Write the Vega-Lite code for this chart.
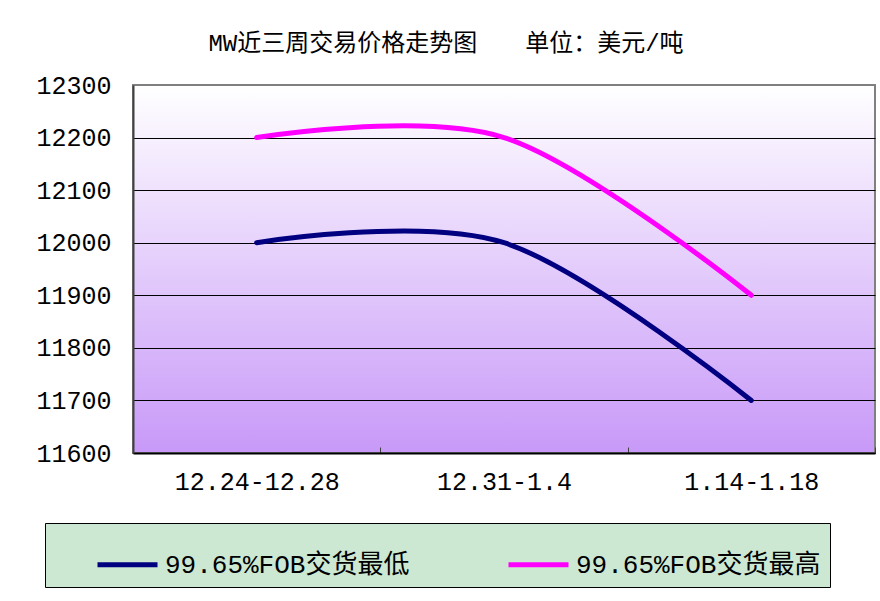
{
  "$schema": "https://vega.github.io/schema/vega-lite/v6.json",
  "width": 742,
  "height": 368,
  "autosize": {"type": "none"},
  "padding": {"left": 133, "top": 85, "right": 5, "bottom": 148},
  "background": "#ffffff",
  "title": {
    "text": "MW近三周交易价格走势图　　单位：美元/吨",
    "font": "Liberation Mono, Noto Sans CJK SC",
    "fontSize": 24,
    "fontWeight": "normal",
    "color": "#000000",
    "anchor": "middle",
    "frame": "group",
    "dx": -58,
    "offset": 17
  },
  "config": {
    "view": {
      "stroke": "#808080",
      "strokeWidth": 2,
      "fill": {
        "gradient": "linear",
        "x1": 0, "y1": 0, "x2": 0, "y2": 1,
        "stops": [
          {"offset": 0, "color": "#ffffff"},
          {"offset": 1, "color": "#c899f8"}
        ]
      }
    },
    "axis": {
      "labelFont": "Liberation Mono, Noto Sans CJK SC",
      "labelFontSize": 25,
      "labelColor": "#000000",
      "title": null
    }
  },
  "data": {
    "values": [
      {"period": "12.24-12.28", "series": "99.65%FOB交货最低", "price": 12000},
      {"period": "12.31-1.4", "series": "99.65%FOB交货最低", "price": 12000},
      {"period": "1.14-1.18", "series": "99.65%FOB交货最低", "price": 11700},
      {"period": "12.24-12.28", "series": "99.65%FOB交货最高", "price": 12200},
      {"period": "12.31-1.4", "series": "99.65%FOB交货最高", "price": 12200},
      {"period": "1.14-1.18", "series": "99.65%FOB交货最高", "price": 11900}
    ]
  },
  "mark": {"type": "line", "interpolate": "cardinal", "tension": 0, "strokeWidth": 5, "strokeCap": "round", "strokeJoin": "round"},
  "encoding": {
    "x": {
      "field": "period",
      "type": "nominal",
      "sort": ["12.24-12.28", "12.31-1.4", "1.14-1.18"],
      "scale": {"paddingInner": 0, "paddingOuter": 0},
      "axis": {
        "labelAngle": 0,
        "labelPadding": 22,
        "tickBand": "extent",
        "tickSize": -6,
        "tickColor": "#404040",
        "tickWidth": 1,
        "domainColor": "#000000",
        "domainWidth": 2,
        "grid": false
      }
    },
    "y": {
      "field": "price",
      "type": "quantitative",
      "scale": {"domain": [11600, 12300], "nice": false, "zero": false},
      "axis": {
        "values": [11600, 11700, 11800, 11900, 12000, 12100, 12200, 12300],
        "format": "d",
        "ticks": false,
        "labelPadding": 22,
        "domainColor": "#404040",
        "domainWidth": 2,
        "grid": true,
        "gridColor": {"condition": {"test": "datum.value === 12300", "value": "#808080"}, "value": "#000000"},
        "gridWidth": 1,
        "gridOpacity": 1
      }
    },
    "color": {
      "field": "series",
      "type": "nominal",
      "scale": {
        "domain": ["99.65%FOB交货最低", "99.65%FOB交货最高"],
        "range": ["#000080", "#ff00ff"]
      },
      "legend": {
        "title": null,
        "orient": "none",
        "legendX": -88,
        "legendY": 438,
        "direction": "horizontal",
        "fillColor": "#cce8d2",
        "strokeColor": "#000000",
        "padding": 9,
        "symbolType": "stroke",
        "symbolSize": 3600,
        "symbolStrokeWidth": 5,
        "symbolOffset": 41,
        "labelFont": "Liberation Mono, Noto Sans CJK SC",
        "labelFontSize": 26,
        "labelColor": "#000000",
        "labelOffset": 5,
        "labelLimit": 500,
        "columnPadding": 55
      }
    },
    "order": {"value": null}
  }
}
